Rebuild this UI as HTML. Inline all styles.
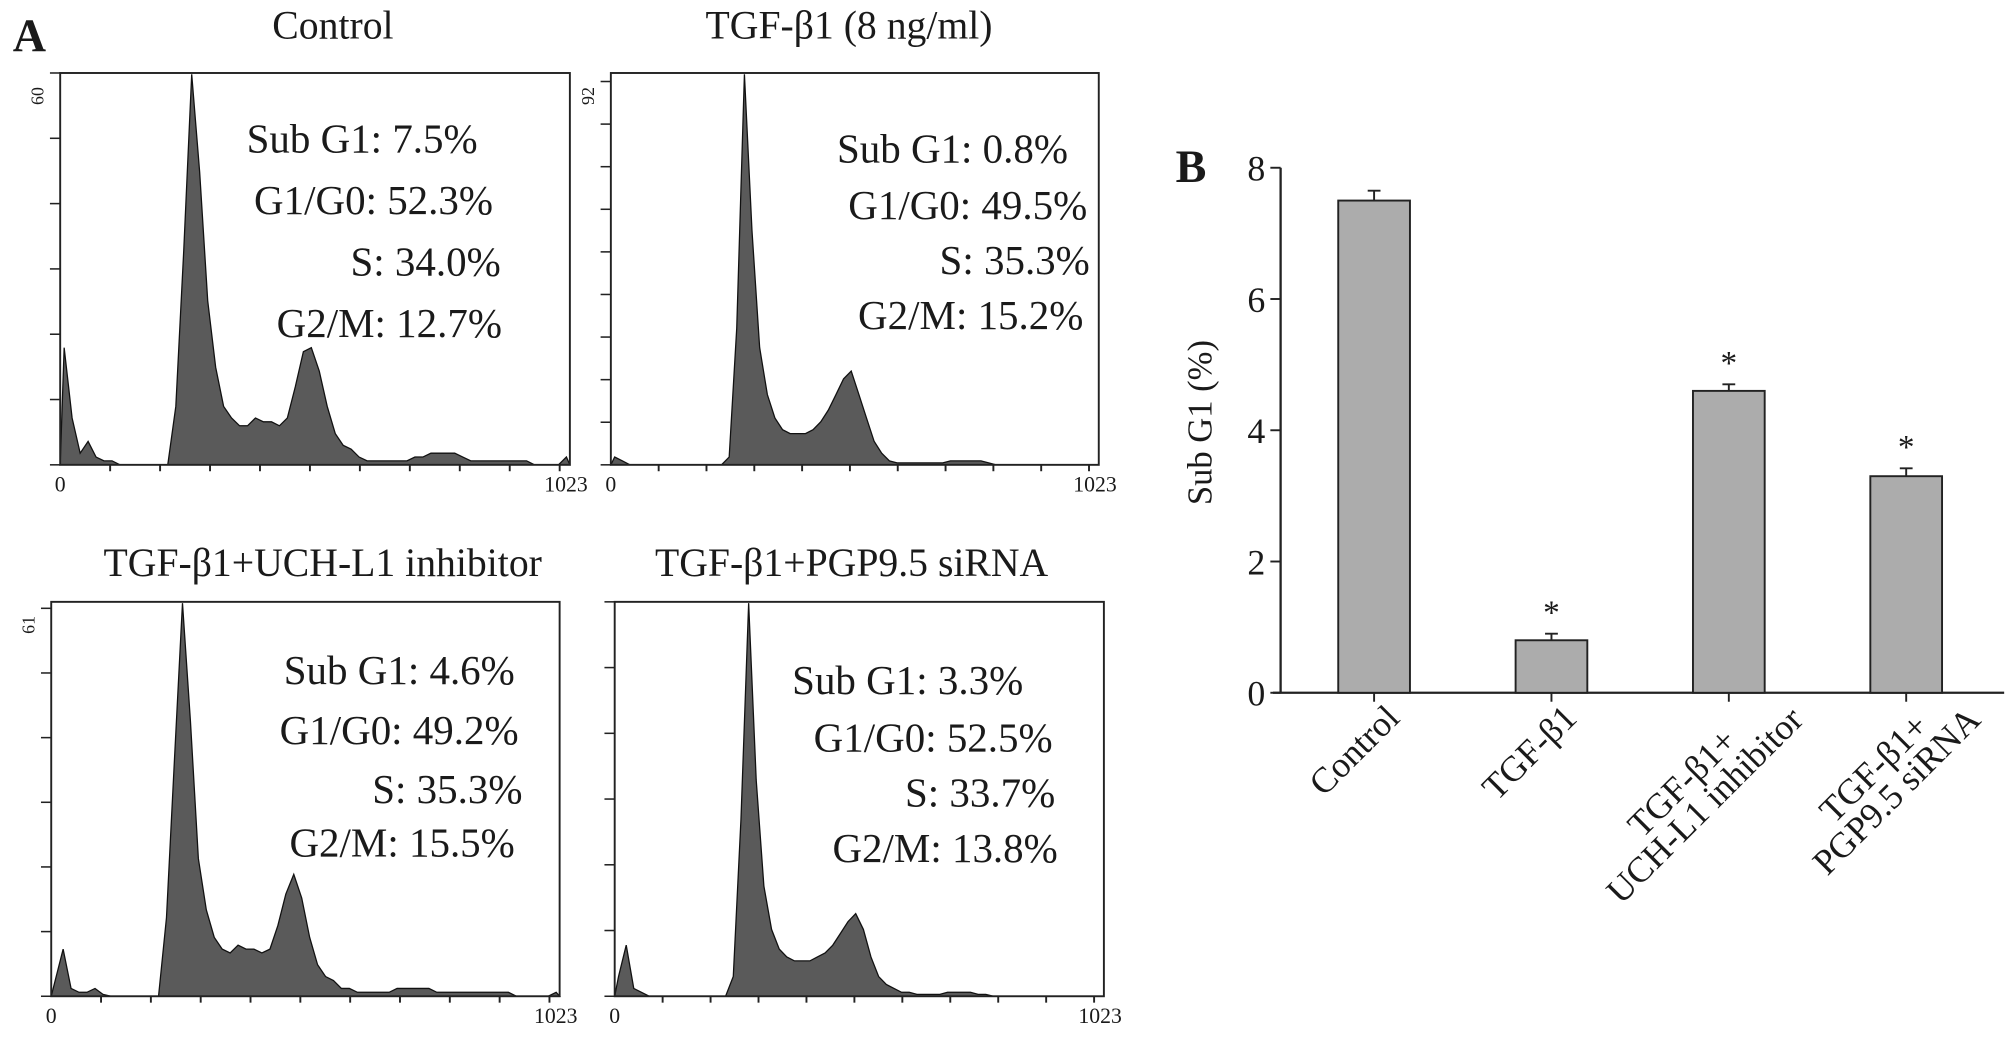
<!DOCTYPE html>
<html><head><meta charset="utf-8"><style>
html,body{margin:0;padding:0;background:#fff;}
svg{display:block;}
text{font-family:"Liberation Serif","DejaVu Serif",serif;fill:#1a1a1a;}
</style></head><body>
<svg id="fig" width="2008" height="1038" viewBox="0 0 1568 810.6" preserveAspectRatio="none" xmlns="http://www.w3.org/2000/svg">
<text x="10" y="40" font-size="36" font-weight="bold">A</text>
<text x="918" y="142" font-size="36" font-weight="bold">B</text>
<g id="hists"></g>
<g id="bars"></g>
</svg>
<script>
// ---- Panel A histogram data (16-channel bins, fraction of panel max) ----
const ctrlCounts = [0.30,0.12,0.03,0.06,0.02,0.01,0.01,0,0,0,0,0,0,0,0.15,0.55,1.0,0.75,0.42,0.25,0.15,0.12,0.10,0.10,0.12,0.11,0.11,0.10,0.12,0.20,0.29,0.30,0.24,0.15,0.08,0.05,0.04,0.02,0.01,0.01,0.01,0.01,0.01,0.01,0.02,0.02,0.03,0.03,0.03,0.03,0.02,0.01,0.01,0.01,0.01,0.01,0.01,0.01,0.01,0,0,0,0,0.02];
const tgfCounts = [0.02,0.01,0,0,0,0,0,0,0,0,0,0,0,0,0,0.02,0.35,1.0,0.6,0.30,0.18,0.12,0.09,0.08,0.08,0.08,0.09,0.11,0.14,0.18,0.22,0.24,0.18,0.12,0.06,0.03,0.01,0.005,0.005,0.005,0.005,0.005,0.005,0.005,0.01,0.01,0.01,0.01,0.01,0.005,0,0,0,0,0,0,0,0,0,0,0,0,0,0];
const uchCounts = [0.04,0.12,0.02,0.01,0.01,0.02,0.005,0,0,0,0,0,0,0,0.20,0.60,1.0,0.70,0.35,0.22,0.15,0.12,0.11,0.13,0.12,0.12,0.11,0.12,0.18,0.26,0.31,0.25,0.15,0.08,0.05,0.04,0.02,0.02,0.01,0.01,0.01,0.01,0.01,0.02,0.02,0.02,0.02,0.02,0.01,0.01,0.01,0.01,0.01,0.01,0.01,0.01,0.01,0.01,0,0,0,0,0,0.01];
const pgpCounts = [0.05,0.13,0.02,0.01,0,0,0,0,0,0,0,0,0,0,0,0.05,0.45,1.0,0.55,0.28,0.17,0.12,0.10,0.09,0.09,0.09,0.10,0.11,0.13,0.16,0.19,0.21,0.17,0.10,0.05,0.03,0.02,0.01,0.01,0.005,0.005,0.005,0.005,0.01,0.01,0.01,0.01,0.005,0.005,0,0,0,0,0,0,0,0,0,0,0,0,0,0,0];
const histTitles = ["Control","TGF-β1 (8 ng/ml)","TGF-β1+UCH-L1 inhibitor","TGF-β1+PGP9.5 siRNA"];
const histYMax = ["60","92","61",""];
const histYMaxNum = [60,92,61,60];
const statLabels = ["Sub G1:","G1/G0:","S:","G2/M:"];
const ctrlStats = ["7.5%","52.3%","34.0%","12.7%"];
const tgfStats = ["0.8%","49.5%","35.3%","15.2%"];
const uchStats = ["4.6%","49.2%","35.3%","15.5%"];
const pgpStats = ["3.3%","52.5%","33.7%","13.8%"];
// ---- Panel B data ----
const barCats = ["Control","TGF-β1","TGF-β1+|UCH-L1 inhibitor","TGF-β1+|PGP9.5 siRNA"];
const barVals = [7.5,0.8,4.6,3.3];
const barErr = [0.15,0.1,0.1,0.12];
const barSig = [false,true,true,true];
const yTicks = [0,2,4,6,8];

const NS="http://www.w3.org/2000/svg";
function mk(tag,attrs,parent){const e=document.createElementNS(NS,tag);for(const k in attrs)e.setAttribute(k,attrs[k]);parent.appendChild(e);return e;}

const panels=[
 {x:47,y:57,w:398,h:306,tx:260,ty:30,counts:ctrlCounts,stats:ctrlStats,sx:[373,385,391,392],sy:[119,167,215,263]},
 {x:477,y:57,w:381,h:306,tx:663,ty:30,counts:tgfCounts,stats:tgfStats,sx:[834,849,851,846],sy:[127,171,214,257]},
 {x:40,y:470,w:397,h:308,tx:252,ty:450,counts:uchCounts,stats:uchStats,sx:[402,405,408,402],sy:[534,581,627,669]},
 {x:480,y:470,w:382,h:308,tx:665,ty:450,counts:pgpCounts,stats:pgpStats,sx:[799,822,824,826],sy:[542,587,630,673]}
];
const hg=document.getElementById('hists');
panels.forEach((p,pi)=>{
  const g=mk('g',{},hg);
  
  
  const t=mk('text',{x:p.tx,y:p.ty,'font-size':31,'text-anchor':'middle'},g);
  t.textContent=histTitles[pi];
  
  
  const xs=i=>p.x+((i*16+8)/1023)*p.w;
  const ys=v=>p.y+p.h-v*(p.h-1);
  let d='M'+p.x+','+(p.y+p.h);
  p.counts.forEach((v,i)=>{d+=' L'+xs(i).toFixed(1)+','+ys(v).toFixed(1);});
  d+=' L'+(p.x+p.w)+','+(p.y+p.h)+' Z';
  const path=mk('path',{d:d,fill:'#5a5a5a',stroke:'#111','stroke-width':1},g);
  
  
  const box=mk('rect',{x:p.x,y:p.y,width:p.w,height:p.h,fill:'none',stroke:'#222','stroke-width':1.5},g);
  
  
  const ym=histYMaxNum[pi];
  for(let c=0;c<=ym;c+=10){const yy=p.y+p.h-c/ym*p.h;mk('line',{x1:p.x-8,x2:p.x,y1:yy,y2:yy,stroke:'#222','stroke-width':1.2},g);}
  for(let k=0;k<=10;k++){const xx=p.x+k*0.098*p.w;mk('line',{x1:xx,x2:xx,y1:p.y+p.h,y2:p.y+p.h+(k==0?0:5),stroke:'#222','stroke-width':1.5},g);}
  if(histYMax[pi]){const yl=mk('text',{x:0,y:0,'font-size':14,'text-anchor':'middle',transform:'translate('+(p.x-13)+','+(p.y+18)+') rotate(-90)'},g);yl.textContent=histYMax[pi];
  }
  const z=mk('text',{x:p.x,y:p.y+p.h+21,'font-size':17,'text-anchor':'middle'},g);z.textContent='0';
  
  const e=mk('text',{x:p.x+p.w+14,y:p.y+p.h+21,'font-size':17,'text-anchor':'end'},g);e.textContent='1023';
  
  p.stats.forEach((s,i)=>{const st=mk('text',{x:p.sx[i],y:p.sy[i],'font-size':32,'text-anchor':'end'},g);st.textContent=statLabels[i]+' '+s;
   });
});

// ---- Panel B ----
const bg=document.getElementById('bars');
const ax={x0:1000,x1:1565,y0:541,ymax:8,ytop:131};
const Y=v=>ax.y0-v/ax.ymax*(ax.y0-ax.ytop);
const X=i=>1073+i*138.5;
const bw=56;
const yaxis=mk('line',{x1:ax.x0,x2:ax.x0,y1:ax.ytop,y2:ax.y0,stroke:'#222','stroke-width':1.8},bg);

const xaxis=mk('line',{x1:ax.x0-6,x2:ax.x1,y1:ax.y0,y2:ax.y0,stroke:'#222','stroke-width':1.8},bg);

yTicks.forEach(v=>{mk('line',{x1:ax.x0-8,x2:ax.x0,y1:Y(v),y2:Y(v),stroke:'#222','stroke-width':1.5},bg);
 const t=mk('text',{x:ax.x0-12,y:Y(v)+10,'font-size':28,'text-anchor':'end'},bg);t.textContent=v;
 });
const yt=mk('text',{x:0,y:0,'font-size':27,'text-anchor':'middle',transform:'translate(946,330) rotate(-90)'},bg);yt.textContent='Sub G1 (%)';

barVals.forEach((v,i)=>{
  const cx=X(i);
  const eb=mk('path',{d:'M'+cx+','+Y(v)+' V'+Y(v+barErr[i])+' M'+(cx-5)+','+Y(v+barErr[i])+' H'+(cx+5),stroke:'#222','stroke-width':1.5,fill:'none'},bg);
  
  const r=mk('rect',{x:cx-bw/2,y:Y(v),width:bw,height:ax.y0-Y(v),fill:'#acacac',stroke:'#222','stroke-width':1.5},bg);
  
  mk('line',{x1:cx,x2:cx,y1:ax.y0,y2:ax.y0+7,stroke:'#222','stroke-width':1.5},bg);
  if(barSig[i]){const s=mk('text',{x:cx,y:Y(v+barErr[i])-8,'font-size':26,'text-anchor':'middle'},bg);s.textContent='*';
   }
  const lines=barCats[i].split('|');
  const lg=mk('g',{transform:'translate('+cx+','+ax.y0+') rotate(-45)'},bg);
  
  if(lines.length===1){
    const t=mk('text',{x:0,y:30,'font-size':28,'text-anchor':'end'},lg);t.textContent=lines[0];
  } else {
    const t2=mk('text',{x:0,y:58,'font-size':28,'text-anchor':'middle'},lg);t2.textContent=lines[1];
    const w2=t2.getComputedTextLength();
    const c=26-w2/2;
    t2.setAttribute('x',c);
    const t1=mk('text',{x:c,y:33,'font-size':28,'text-anchor':'middle'},lg);t1.textContent=lines[0];
  }
});
</script>
</body></html>
